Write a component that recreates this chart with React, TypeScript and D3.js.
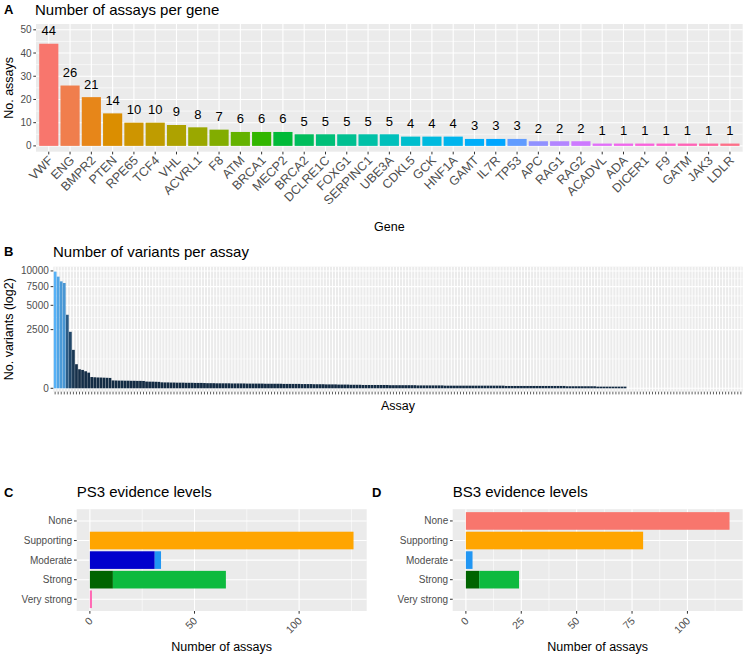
// @ts-nocheck
import * as d3 from 'd3';
import React, { useEffect, useRef } from 'react';

// Panel A: assays per gene
const genes = ['VWF', 'ENG', 'BMPR2', 'PTEN', 'RPE65', 'TCF4', 'VHL', 'ACVRL1', 'F8', 'ATM', 'BRCA1', 'MECP2', 'BRCA2', 'DCLRE1C', 'FOXG1', 'SERPINC1', 'UBE3A', 'CDKL5', 'GCK', 'HNF1A', 'GAMT', 'IL7R', 'TP53', 'APC', 'RAG1', 'RAG2', 'ACADVL', 'ADA', 'DICER1', 'F9', 'GATM', 'JAK3', 'LDLR'];
const assaysPerGene = [44, 26, 21, 14, 10, 10, 9, 8, 7, 6, 6, 6, 5, 5, 5, 5, 5, 4, 4, 4, 3, 3, 3, 2, 2, 2, 1, 1, 1, 1, 1, 1, 1];
const assayTicks = [0, 10, 20, 30, 40, 50];

// Panel B: variants per assay (sorted)
const variantsPerAssay = [
  9880, 9050, 8300, 8050, 3925, 2315, 1072, 421, 263, 245, 211, 178,
  92, 88, 85, 84, 82, 80, 78,
  45, 44, 43, 43, 42, 42, 41, 41, 40, 40, 39,
  33, 32, 32, 31, 30,
  26, 25, 25, 24, 24, 23, 23, 23, 22, 22, 22, 21, 21, 21, 20,
  19, 19, 19, 18, 18, 18, 18, 18, 17, 17, 17, 17, 17, 16, 16, 16, 16, 16, 16, 15, 15, 15, 15, 15, 15, 14, 14, 14, 14, 14, 14,
  13, 13, 13, 13, 12, 12, 12, 12, 11, 11, 11, 11,
  10, 10, 10, 10, 9, 9, 9, 9,
  8, 8, 8, 8, 8, 8, 8, 8, 8, 7, 7, 7, 7, 7, 7, 7, 7, 7, 6, 6, 6, 6, 6, 6, 6, 6, 6,
  5, 5, 5, 5, 5, 5, 5, 5, 5, 5, 5, 5, 5, 5, 5, 5, 5, 5, 5, 5,
  4, 4, 4, 4, 4, 4, 4, 4, 4, 4, 4, 4, 4, 4, 4, 4, 4, 4, 4, 4,
  3, 3, 3, 3, 3, 3, 3, 3, 3, 3, 2, 2, 2, 2, 2, 2, 2, 2, 2, 2,
  0, 0, 0, 0, 0, 0, 0, 0, 0, 0, 0, 0, 0, 0, 0, 0, 0, 0, 0, 0,
  0, 0, 0, 0, 0, 0, 0, 0, 0, 0, 0, 0, 0, 0, 0, 0, 0, 0,
];
const variantTicks = [0, 2500, 5000, 7500, 10000];

// Panels C / D: evidence levels
const evidenceLevels = ['None', 'Supporting', 'Moderate', 'Strong', 'Very strong'];
const ps3Main = [0, 126, 31, 11, 1];
const ps3Extra = [0, 0, 3, 54, 0];
const bs3Main = [119, 80, 0, 6, 0];
const bs3Extra = [0, 0, 3, 18, 0];
const mainColors = ['#F8766D', '#FFA500', '#0000CD', '#006400', '#FF69B4'];
const extraColors = ['#F8766D', '#FFA500', '#2196F3', '#0DBA3E', '#FF69B4'];

const W = 745;
const H = 655;
const FONT = "'Liberation Sans', Arial, Helvetica, sans-serif";
const TICK_COL = '#4D4D4D';
const AXIS_COL = '#333333';
const PANEL_BG = '#EBEBEB';

// ggplot-style hcl (polar Luv) -> hex
function hcl2hex(h, c, l) {
  const hr = (h * Math.PI) / 180;
  const u = c * Math.cos(hr);
  const v = c * Math.sin(hr);
  const un = 0.1978398;
  const vn = 0.4683363;
  const Y = 100 * (l > 7.999592 ? Math.pow((l + 16) / 116, 3) : l / 903.3);
  const up = u / (13 * l) + un;
  const vp = v / (13 * l) + vn;
  const X = (Y * 9 * up) / (4 * vp);
  const Z = (Y * (12 - 3 * up - 20 * vp)) / (4 * vp);
  const lin = [
    3.240479 * X - 1.53715 * Y - 0.498535 * Z,
    -0.969256 * X + 1.875992 * Y + 0.041556 * Z,
    0.055648 * X - 0.204043 * Y + 1.057311 * Z,
  ].map(t => t / 100);
  const gam = t => (t > 0.00304 ? 1.055 * Math.pow(t, 1 / 2.4) - 0.055 : 12.92 * t);
  const [r, g, b] = lin.map(t => Math.round(255 * Math.max(0, Math.min(1, gam(t)))));
  return d3.rgb(r, g, b).formatHex();
}

const huePal = n => d3.range(n).map(i => hcl2hex(15 + (360 * i) / n, 100, 65));

function hline(g, x1, x2, y, w) {
  g.append('line').attr('x1', x1).attr('x2', x2).attr('y1', y).attr('y2', y)
    .attr('stroke', '#ffffff').attr('stroke-width', w);
}
function vline(g, x, y1, y2, w) {
  g.append('line').attr('x1', x).attr('x2', x).attr('y1', y1).attr('y2', y2)
    .attr('stroke', '#ffffff').attr('stroke-width', w);
}

function addText(g, x, y, str, size, opts = {}) {
  const t = g.append('text')
    .attr('x', x)
    .attr('y', y)
    .attr('font-family', FONT)
    .attr('font-size', size)
    .attr('fill', opts.fill || '#000000')
    .attr('text-anchor', opts.anchor || 'start')
    .text(str);
  if (opts.bold) t.attr('font-weight', 'bold');
  if (opts.transform) t.attr('transform', opts.transform);
  if (opts.dy) t.attr('dy', opts.dy);
  return t;
}

export default function App() {
  const svgRef = useRef(null);

  useEffect(() => {
    if (!svgRef.current) return;
    const svg = d3.select(svgRef.current);
    svg.selectAll('*').remove();

    // ---------------- Panel A ----------------
    const a = { left: 36, right: 742.7, top: 24, bottom: 151.7 };
    const xA = d3.scaleBand().domain(genes).range([a.left, a.right]).paddingInner(0.1).paddingOuter(0.15);
    const yA = d3.scaleLinear().domain([-2.5, 52.5]).range([a.bottom, a.top]);
    const geneColors = huePal(genes.length);
    const gA = svg.append('g');

    gA.append('rect').attr('x', a.left).attr('y', a.top)
      .attr('width', a.right - a.left).attr('height', a.bottom - a.top).attr('fill', PANEL_BG);
    [5, 15, 25, 35, 45].forEach(v => hline(gA, a.left, a.right, yA(v), 0.6));
    assayTicks.forEach(v => hline(gA, a.left, a.right, yA(v), 1.1));
    genes.forEach(gn => vline(gA, xA(gn) + xA.bandwidth() / 2, a.top, a.bottom, 1.1));

    gA.selectAll('.bar')
      .data(assaysPerGene)
      .enter()
      .append('rect')
      .attr('x', (d, i) => xA(genes[i]))
      .attr('width', xA.bandwidth())
      .attr('y', d => yA(d))
      .attr('height', d => yA(0) - yA(d))
      .attr('fill', (d, i) => geneColors[i]);

    assaysPerGene.forEach((d, i) => {
      addText(gA, xA(genes[i]) + xA.bandwidth() / 2, yA(d) - 8.5, String(d), 13, { anchor: 'middle' });
    });

    assayTicks.forEach(v => {
      gA.append('line').attr('x1', a.left - 2.7).attr('x2', a.left).attr('y1', yA(v)).attr('y2', yA(v))
        .attr('stroke', AXIS_COL).attr('stroke-width', 1);
      addText(gA, a.left - 4.5, yA(v), String(v), 10, { anchor: 'end', fill: TICK_COL, dy: '0.35em' });
    });
    genes.forEach(gn => {
      const cx = xA(gn) + xA.bandwidth() / 2;
      gA.append('line').attr('x1', cx).attr('x2', cx).attr('y1', a.bottom).attr('y2', a.bottom + 2.7)
        .attr('stroke', AXIS_COL).attr('stroke-width', 1);
      addText(gA, 0, 0, gn, 12.5, {
        anchor: 'end',
        fill: TICK_COL,
        transform: `translate(${cx + 5},${a.bottom + 9.5}) rotate(-45)`,
      });
    });

    addText(gA, 4, 14, 'A', 13, { bold: true });
    addText(gA, 35, 15, 'Number of assays per gene', 15);
    addText(gA, (a.left + a.right) / 2, 231, 'Gene', 12.5, { anchor: 'middle' });
    addText(gA, 0, 0, 'No. assays', 12.5, { anchor: 'middle', transform: `translate(13,${(a.top + a.bottom) / 2}) rotate(-90)` });

    // ---------------- Panel B ----------------
    const b = { left: 53.3, right: 742.7, top: 266.7, bottom: 391.7 };
    const idx = d3.range(variantsPerAssay.length);
    const xB = d3.scaleBand().domain(idx).range([b.left, b.right]).paddingInner(0.1).paddingOuter(0.15);
    // sqrt-transformed axis
    const yB = d3.scaleLinear().domain([-2.9, 103.6]).range([b.bottom, b.top]);
    const ySq = v => yB(Math.sqrt(v));
    const fillB = d3.scaleLinear()
      .domain(d3.extent(variantsPerAssay))
      .range(['#132B43', '#56B1F7'])
      .interpolate(d3.interpolateLab);
    const gB = svg.append('g');

    gB.append('rect').attr('x', b.left).attr('y', b.top)
      .attr('width', b.right - b.left).attr('height', b.bottom - b.top).attr('fill', PANEL_BG);
    const sqTicks = variantTicks.map(Math.sqrt);
    for (let i = 0; i < sqTicks.length - 1; i++) hline(gB, b.left, b.right, yB((sqTicks[i] + sqTicks[i + 1]) / 2), 0.6);
    variantTicks.forEach(v => hline(gB, b.left, b.right, ySq(v), 1.1));
    idx.forEach(i => vline(gB, xB(i) + xB.bandwidth() / 2, b.top, b.bottom, 1));

    gB.selectAll('.bar')
      .data(variantsPerAssay)
      .enter()
      .append('rect')
      .attr('x', (d, i) => xB(i))
      .attr('width', xB.bandwidth())
      .attr('y', d => ySq(d))
      .attr('height', d => ySq(0) - ySq(d))
      .attr('fill', d => fillB(d));

    variantTicks.forEach(v => {
      gB.append('line').attr('x1', b.left - 2.7).attr('x2', b.left).attr('y1', ySq(v)).attr('y2', ySq(v))
        .attr('stroke', AXIS_COL).attr('stroke-width', 1);
      addText(gB, b.left - 4.5, ySq(v), String(v), 10, { anchor: 'end', fill: TICK_COL, dy: '0.35em' });
    });
    idx.forEach(i => {
      const cx = xB(i) + xB.bandwidth() / 2;
      gB.append('line').attr('x1', cx).attr('x2', cx).attr('y1', b.bottom).attr('y2', b.bottom + 2.7)
        .attr('stroke', AXIS_COL).attr('stroke-width', 0.8);
    });

    addText(gB, 4, 256, 'B', 13, { bold: true });
    addText(gB, 53, 257, 'Number of variants per assay', 15);
    addText(gB, (b.left + b.right) / 2, 409.5, 'Assay', 12.5, { anchor: 'middle' });
    addText(gB, 0, 0, 'No. variants (log2)', 12.5, { anchor: 'middle', transform: `translate(12.5,${(b.top + b.bottom) / 2}) rotate(-90)` });

    // ---------------- Panels C / D ----------------
    function drawEvidence(p, main, extra, xMax, majors, minors, letter, letterX, title) {
      const g = svg.append('g');
      const x = d3.scaleLinear().domain([-xMax * 0.05, xMax * 1.05]).range([p.left, p.right]);
      const y = d3.scaleBand().domain(evidenceLevels).range([p.top, p.bottom]).paddingInner(0.1).paddingOuter(0.15);

      g.append('rect').attr('x', p.left).attr('y', p.top)
        .attr('width', p.right - p.left).attr('height', p.bottom - p.top).attr('fill', PANEL_BG);
      minors.forEach(v => vline(g, x(v), p.top, p.bottom, 0.6));
      majors.forEach(v => vline(g, x(v), p.top, p.bottom, 1.1));
      evidenceLevels.forEach(l => hline(g, p.left, p.right, y(l) + y.bandwidth() / 2, 1.1));

      g.selectAll('.main')
        .data(main)
        .enter()
        .append('rect')
        .attr('x', x(0))
        .attr('y', (d, i) => y(evidenceLevels[i]))
        .attr('width', d => x(d) - x(0))
        .attr('height', y.bandwidth())
        .attr('fill', (d, i) => mainColors[i]);
      g.selectAll('.extra')
        .data(extra)
        .enter()
        .append('rect')
        .attr('x', (d, i) => x(main[i]))
        .attr('y', (d, i) => y(evidenceLevels[i]))
        .attr('width', (d, i) => x(main[i] + d) - x(main[i]))
        .attr('height', y.bandwidth())
        .attr('fill', (d, i) => extraColors[i]);

      evidenceLevels.forEach(l => {
        const cy = y(l) + y.bandwidth() / 2;
        g.append('line').attr('x1', p.left - 2.7).attr('x2', p.left).attr('y1', cy).attr('y2', cy)
          .attr('stroke', AXIS_COL).attr('stroke-width', 1);
        addText(g, p.left - 4.5, cy, l, 10, { anchor: 'end', fill: TICK_COL, dy: '0.35em' });
      });
      majors.forEach(v => {
        g.append('line').attr('x1', x(v)).attr('x2', x(v)).attr('y1', p.bottom).attr('y2', p.bottom + 2.7)
          .attr('stroke', AXIS_COL).attr('stroke-width', 1);
        addText(g, 0, 0, String(v), 10.5, {
          anchor: 'end',
          fill: TICK_COL,
          transform: `translate(${x(v) + 3.5},${p.bottom + 10.5}) rotate(-45)`,
        });
      });

      addText(g, letterX, 497, letter, 13, { bold: true });
      addText(g, p.left, 497, title, 15);
      addText(g, (p.left + p.right) / 2, 651, 'Number of assays', 12.5, { anchor: 'middle' });
    }

    drawEvidence({ left: 76.7, right: 366.7, top: 509.2, bottom: 611 }, ps3Main, ps3Extra, 126,
      [0, 50, 100], [25, 75, 125], 'C', 4, 'PS3 evidence levels');
    drawEvidence({ left: 452.7, right: 742.7, top: 509.2, bottom: 611 }, bs3Main, bs3Extra, 119,
      [0, 25, 50, 75, 100], [12.5, 37.5, 62.5, 87.5, 112.5], 'D', 372, 'BS3 evidence levels');
  }, []);

  return (
    <svg
      ref={svgRef}
      width={W}
      height={H}
      style={{ position: 'absolute', left: 0, top: 0, background: '#ffffff' }}
    />
  );
}
